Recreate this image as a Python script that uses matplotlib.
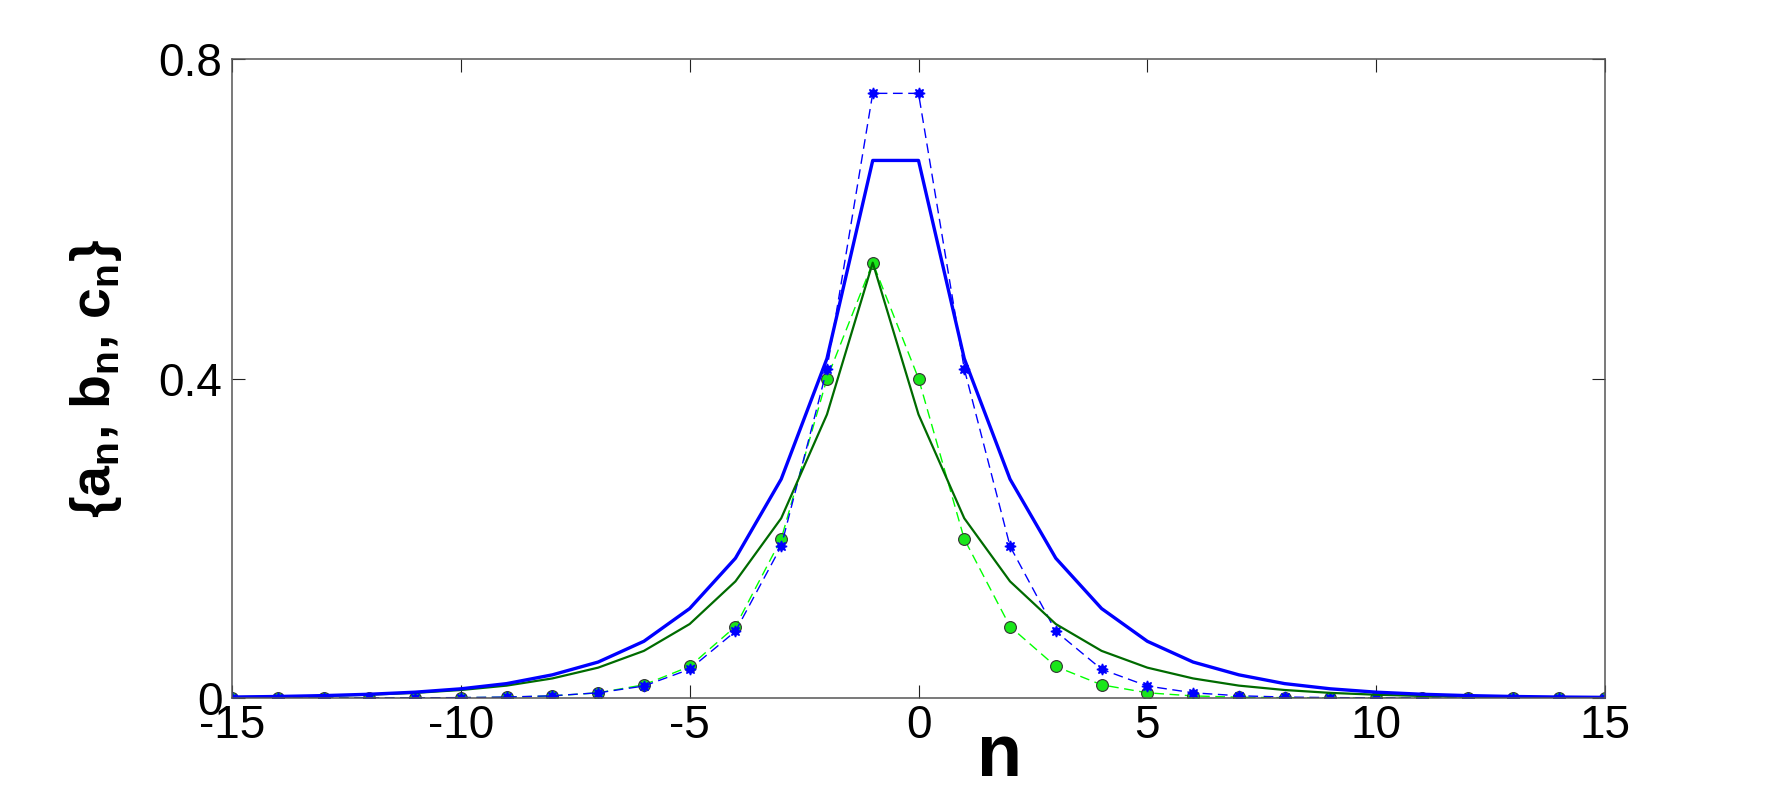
import matplotlib
matplotlib.use("Agg")
import matplotlib.pyplot as plt
import numpy as np

# values
n = list(range(-15, 16))

# blue solid
a_solid = [0.0012, 0.0019, 0.003, 0.0047, 0.0073, 0.0115, 0.018, 0.029, 0.045, 0.071,
           0.112, 0.175, 0.274, 0.425, 0.673, 0.673, 0.425, 0.274, 0.175, 0.112,
           0.071, 0.045, 0.029, 0.018, 0.0115, 0.0073, 0.0047, 0.003, 0.0019, 0.0012, 0.0008]
# blue dashed with star markers
b_dashed = [0.0, 0.0, 0.0, 0.0001, 0.0002, 0.0005, 0.0012, 0.0028, 0.0065, 0.015,
            0.036, 0.0835, 0.19, 0.412, 0.757, 0.757, 0.412, 0.19, 0.0835, 0.036,
            0.015, 0.0065, 0.0028, 0.0012, 0.0005, 0.0002, 0.0001, 0.0, 0.0, 0.0, 0.0]
# dark green solid
c_solid = [0.0011, 0.0017, 0.0026, 0.0041, 0.0064, 0.0100, 0.0155, 0.0245, 0.038, 0.059,
           0.0926, 0.146, 0.225, 0.355, 0.545, 0.355, 0.225, 0.146, 0.0926, 0.059,
           0.038, 0.0245, 0.0155, 0.0100, 0.0064, 0.0041, 0.0026, 0.0017, 0.0011, 0.0007, 0.0004]
# light green dashed with circle markers
d_dashed = [0.0, 0.0, 0.0, 0.0, 0.0001, 0.0004, 0.001, 0.0026, 0.0065, 0.0165,
            0.0395, 0.0895, 0.199, 0.40, 0.545, 0.40, 0.199, 0.0895, 0.0395, 0.0165,
            0.0065, 0.0026, 0.001, 0.0004, 0.0001, 0.0, 0.0, 0.0, 0.0, 0.0, 0.0]

x_ticks = [-15, -10, -5, 0, 5, 10, 15]
y_ticks = [0, 0.4, 0.8]
y_tick_labels = ["0", "0.4", "0.8"]

plt.rcParams["font.family"] = ["Liberation Sans", "DejaVu Sans"]
plt.rcParams["mathtext.fontset"] = "custom"
plt.rcParams["mathtext.bf"] = "Liberation Sans:bold"
plt.rcParams["mathtext.rm"] = "Liberation Sans:bold"
plt.rcParams["lines.scale_dashes"] = False
plt.rcParams["axes.unicode_minus"] = False  # plain hyphen like the original

fig = plt.figure(figsize=(17.73, 7.86), dpi=100)
ax = fig.add_axes([232 / 1773, 88 / 786, 1373 / 1773, 639 / 786])

ax.plot(n, d_dashed, color=(0, 1, 0), lw=1.0, dashes=(7, 4),
        marker="o", ms=8.5, mfc=(0.1, 0.9, 0.1), mec="#333333", mew=0.8)
ax.plot(n, b_dashed, color=(0, 0, 1), lw=1.0, dashes=(7, 4),
        marker=(8, 1, 0), ms=8, mfc=(0, 0, 1), mec=(0, 0, 1))
ax.plot(n, c_solid, color=(0, 0.42, 0), lw=1.6)
ax.plot(n, a_solid, color=(0, 0, 1), lw=2.4)

ax.set_xlim(-15, 15)
ax.set_ylim(0, 0.8)
ax.set_xticks(x_ticks)
ax.set_yticks(y_ticks)
ax.set_yticklabels(y_tick_labels)

ax.tick_params(direction="in", length=9.5, width=0.8, color="#222222",
               labelsize=33, top=True, right=True)
ax.tick_params(axis="x", pad=4)
ax.tick_params(axis="y", pad=7)
for s in ax.spines.values():
    s.set_color("#555555")
    s.set_linewidth(1.1)

ax.set_xlabel("n", fontsize=53, fontweight="bold")
ax.xaxis.label.set_va("baseline")
ax.xaxis.label.set_ha("left")
ax.xaxis.set_label_coords(0.5426, -0.122)

ax.set_ylabel(r"{a$_{\mathbf{n}}$, b$_{\mathbf{n}}$, c$_{\mathbf{n}}$}",
              fontsize=40, fontweight="bold")
ax.yaxis.label.set_va("baseline")
ax.yaxis.set_label_coords(-0.0889, 0.5)

fig.savefig("out.png", dpi=100)
